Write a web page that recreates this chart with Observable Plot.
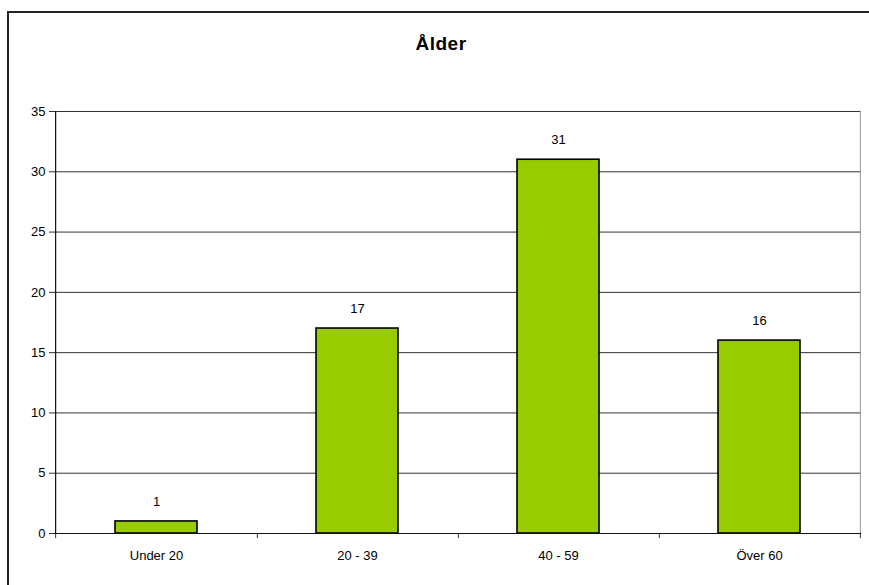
<!DOCTYPE html>
<html>
<head>
<meta charset="utf-8">
<script src="https://cdn.jsdelivr.net/npm/d3@7"></script>
<script src="https://cdn.jsdelivr.net/npm/@observablehq/plot@0.6"></script>
<style>
  body { margin: 0; background: #fff; font-family: "Liberation Sans", Arial, sans-serif; }
  #wrap { position: relative; width: 869px; height: 585px; overflow: hidden; }
  #border { position: absolute; left: 7px; top: 11px; width: 900px; height: 600px;
            border-left: 2px solid #222; border-top: 2px solid #222; }
  #title { position: absolute; left: 341px; width: 200px; top: 33px; text-align: center;
           font-weight: bold; font-size: 19px; letter-spacing: 0.5px; color: #000; }
  #chart { position: absolute; left: 0; top: 0; }
</style>
</head>
<body>
<div id="wrap">
  <div id="border"></div>
  <div id="title">Ålder</div>
  <div id="chart"></div>
</div>
<script>
const categories = ["Under 20", "20 - 39", "40 - 59", "Över 60"];
const counts = [1, 17, 31, 16];
const yTicks = [0, 5, 10, 15, 20, 25, 30, 35];

const data = categories.map((c, i) => ({category: c, count: counts[i]}));

const W = 869, H = 585, mL = 54, mR = 8, mT = 111, mB = 52;
const step = (W - mL - mR) / categories.length;

const chart = Plot.plot({
  width: W, height: H,
  marginLeft: mL, marginRight: mR, marginTop: mT, marginBottom: mB,
  style: {fontFamily: '"Liberation Sans", Arial, sans-serif', fontSize: "13px", background: "transparent", color: "#000"},
  x: {domain: categories, paddingInner: 0.594, paddingOuter: 0.297, label: null},
  y: {domain: [0, 35], label: null},
  marks: [
    Plot.ruleY(yTicks.filter(d => d > 0), {stroke: "#333", strokeWidth: 1}),
    Plot.ruleX([categories[categories.length - 1]], {dx: step / 2, y1: 0, y2: 35, stroke: "#999"}),
    Plot.ruleX(categories, {dx: step / 2, y1: 0, y2: -0.42, stroke: "#333"}),
    Plot.ruleX([categories[0]], {dx: -step / 2, y1: 0, y2: -0.42, stroke: "#333"}),
    Plot.barY(data, {x: "category", y: "count", fill: "#99CC00", stroke: "#000", strokeWidth: 1.6}),
    Plot.text(data, {x: "category", y: "count", text: d => String(d.count), dy: -20, fontSize: 13, fill: "#000"}),
    Plot.ruleY([0], {stroke: "#111", strokeWidth: 1.2}),
    Plot.ruleX([categories[0]], {dx: -step / 2, y1: 0, y2: 35, stroke: "#111", strokeWidth: 1.2}),
    Plot.axisY({ticks: yTicks, tickSize: 5, tickPadding: 4, fontSize: 13, stroke: "#333"}),
    Plot.axisX({tickSize: 0, tickPadding: 17, fontSize: 13})
  ]
});
document.getElementById("chart").appendChild(chart);
</script>
</body>
</html>
